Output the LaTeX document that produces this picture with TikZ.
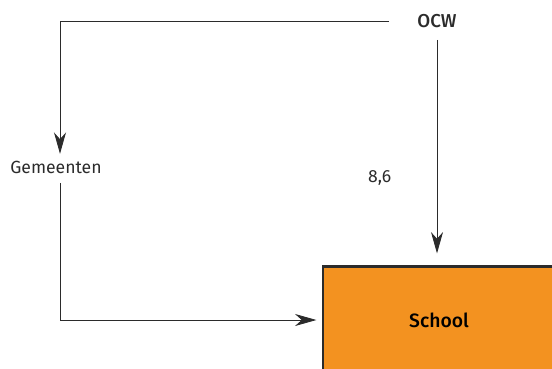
\documentclass[tikz,border=0pt]{standalone}
\usepackage{fontspec}
\setmainfont{Fira Sans}[BoldFont={Fira Sans Medium}]
\usepackage{xcolor}
\usetikzlibrary{arrows.meta,positioning}
\definecolor{schoolorange}{HTML}{F39220}
\definecolor{linegray}{HTML}{2B2B2B}

\begin{document}
\begin{tikzpicture}[
    x=0.75pt, y=-0.75pt,
    lbl/.style={font=\fontsize{13.2}{15}\selectfont, text=linegray, inner sep=0pt},
    head/.style={lbl, font=\fontsize{14}{16}\selectfont\bfseries},
    org/.style={rectangle, draw=linegray, line width=1.9pt, fill=schoolorange,
        minimum width=174pt, minimum height=80pt, font=\fontsize{14.5}{16}\selectfont\bfseries},
    flow/.style={draw=linegray, line width=0.65pt, -{Stealth[length=16pt, width=9pt, inset=5pt]}}
]
\useasboundingbox (0,0) rectangle (552,368);
% Nodes
\node[head] (ocw) at (437,21) {OCW};
\node[lbl] (gem) at (56,167) {Gemeenten};
\node[org] (school) at (439,320) {School};

% Arrows
\draw[flow, shorten <=21pt, shorten >=5pt] (ocw.west) -| ([xshift=3pt]gem.north);
\draw[flow, shorten <=7pt, shorten >=4pt] ([xshift=3pt]gem.south) |- (school.west);
\draw[flow, shorten <=9pt, shorten >=9pt] (ocw.south) -- (ocw.south |- school.north)
    node[lbl, pos=0.63, left=34pt] {8,6};
\end{tikzpicture}
\end{document}
